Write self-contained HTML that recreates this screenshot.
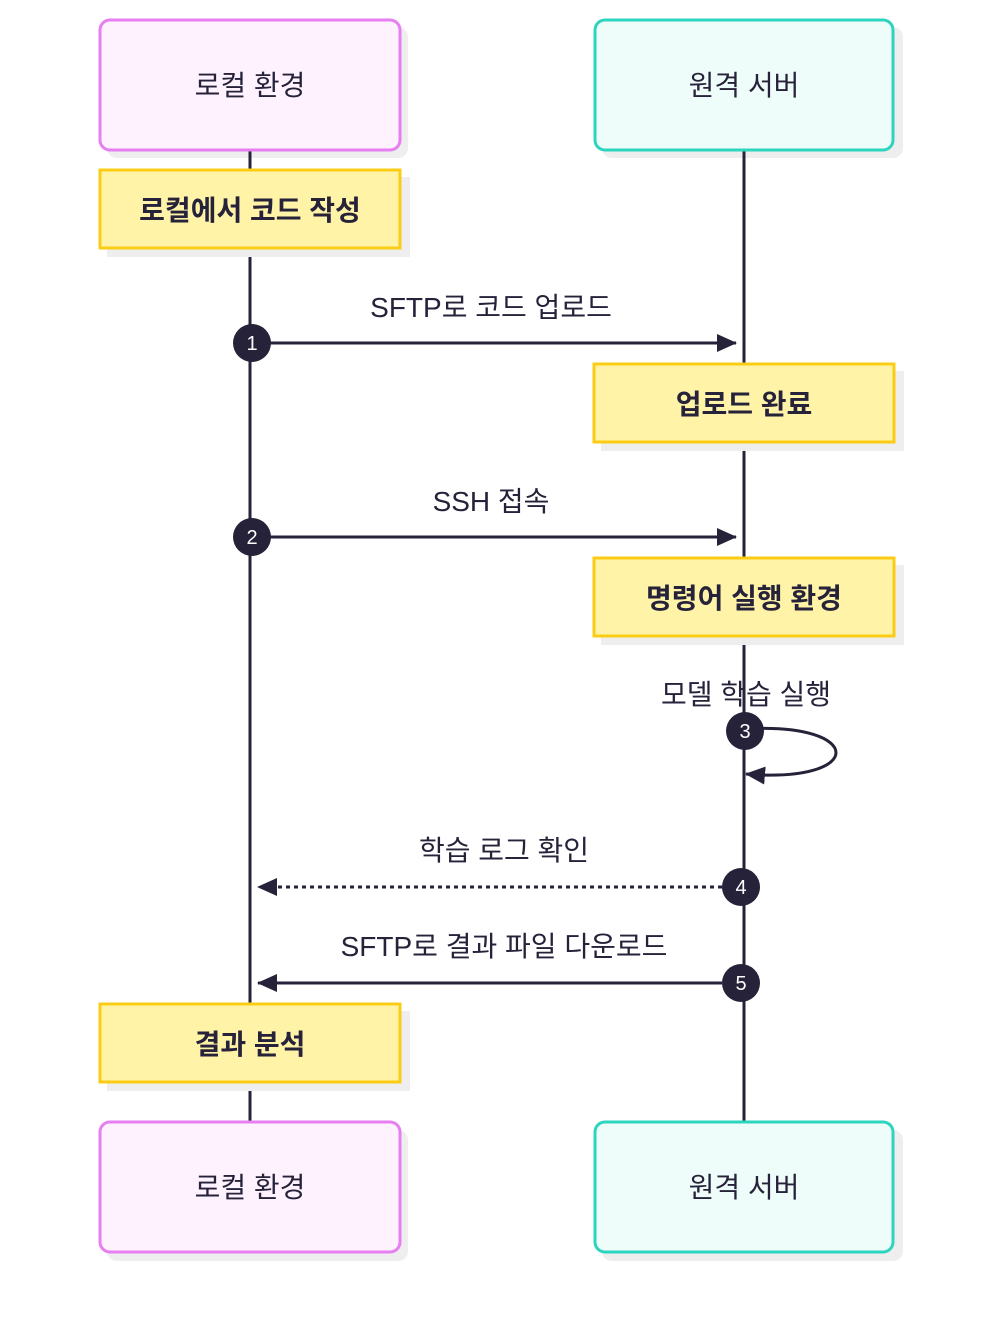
<!DOCTYPE html>
<html><head><meta charset="utf-8"><style>
html,body{margin:0;padding:0;background:#fff;}
svg text{font-family:"Liberation Sans","Noto Sans CJK KR",sans-serif;fill:#26223a;}
</style></head><body>
<svg width="996" height="1334" viewBox="0 0 996 1334" xmlns="http://www.w3.org/2000/svg">
<defs>
<marker id="ah" markerWidth="20" markerHeight="18" refX="19" refY="9" orient="auto" markerUnits="userSpaceOnUse" viewBox="0 0 20 18">
<path d="M0,0 L20,9 L0,18 z" fill="#26223a"/></marker>
</defs>
<!-- actors shadows -->
<rect x="107" y="27" width="301" height="131" rx="10" fill="#eeeeee"/>
<rect x="602" y="27" width="301" height="131" rx="10" fill="#eeeeee"/>
<rect x="107" y="1130" width="301" height="131" rx="10" fill="#eeeeee"/>
<rect x="602" y="1130" width="301" height="131" rx="10" fill="#eeeeee"/>
<!-- lifelines -->
<line x1="250" y1="150" x2="250" y2="1122" stroke="#26223a" stroke-width="3"/>
<line x1="744" y1="150" x2="744" y2="1122" stroke="#26223a" stroke-width="3"/>
<rect x="100" y="20" width="300" height="130" rx="10" fill="#fdf2fd" stroke="#e77ef2" stroke-width="3"/>
<rect x="595" y="20" width="298" height="130" rx="10" fill="#effdfa" stroke="#2dd4bf" stroke-width="3"/>
<rect x="100" y="1122" width="300" height="130" rx="10" fill="#fdf2fd" stroke="#e77ef2" stroke-width="3"/>
<rect x="595" y="1122" width="298" height="130" rx="10" fill="#effdfa" stroke="#2dd4bf" stroke-width="3"/>
<text x="250" y="95" font-size="28" text-anchor="middle">로컬 환경</text>
<text x="744" y="95" font-size="28" text-anchor="middle">원격 서버</text>
<text x="250" y="1197" font-size="28" text-anchor="middle">로컬 환경</text>
<text x="744" y="1197" font-size="28" text-anchor="middle">원격 서버</text>
<!-- notes -->
<g>
<rect x="107" y="177" width="303" height="80" fill="#eeeeee"/>
<rect x="100" y="170" width="300" height="78" fill="#fef3a7" stroke="#facc15" stroke-width="3"/>
<text x="250" y="220" font-size="28" font-weight="bold" text-anchor="middle">로컬에서 코드 작성</text>
<rect x="601" y="371" width="303" height="80" fill="#eeeeee"/>
<rect x="594" y="364" width="300" height="78" fill="#fef3a7" stroke="#facc15" stroke-width="3"/>
<text x="744" y="414" font-size="28" font-weight="bold" text-anchor="middle">업로드 완료</text>
<rect x="601" y="565" width="303" height="80" fill="#eeeeee"/>
<rect x="594" y="558" width="300" height="78" fill="#fef3a7" stroke="#facc15" stroke-width="3"/>
<text x="744" y="608" font-size="28" font-weight="bold" text-anchor="middle">명령어 실행 환경</text>
<rect x="107" y="1011" width="303" height="80" fill="#eeeeee"/>
<rect x="100" y="1004" width="300" height="78" fill="#fef3a7" stroke="#facc15" stroke-width="3"/>
<text x="250" y="1054" font-size="28" font-weight="bold" text-anchor="middle">결과 분석</text>
</g>
<!-- messages -->
<text x="491" y="317" font-size="28" text-anchor="middle">SFTP로 코드 업로드</text>
<line x1="252" y1="343" x2="736" y2="343" stroke="#26223a" stroke-width="3" marker-end="url(#ah)"/>
<text x="491" y="511" font-size="28" text-anchor="middle">SSH 접속</text>
<line x1="252" y1="537" x2="736" y2="537" stroke="#26223a" stroke-width="3" marker-end="url(#ah)"/>
<text x="746" y="704" font-size="28" text-anchor="middle">모델 학습 실행</text>
<path d="M746,729 C866,722 866,784 746,774" fill="none" stroke="#26223a" stroke-width="3" marker-end="url(#ah)"/>
<text x="504" y="860" font-size="28" text-anchor="middle">학습 로그 확인</text>
<line x1="722" y1="887" x2="258" y2="887" stroke="#26223a" stroke-width="3" stroke-dasharray="4,4" marker-end="url(#ah)"/>
<text x="504" y="956" font-size="28" text-anchor="middle">SFTP로 결과 파일 다운로드</text>
<line x1="722" y1="983" x2="258" y2="983" stroke="#26223a" stroke-width="3" marker-end="url(#ah)"/>
<!-- numbers -->
<g font-size="20" text-anchor="middle">
<circle cx="252" cy="343" r="19" fill="#26223a"/><text x="252" y="350" style="fill:#fff">1</text>
<circle cx="252" cy="537" r="19" fill="#26223a"/><text x="252" y="544" style="fill:#fff">2</text>
<circle cx="745" cy="731" r="19" fill="#26223a"/><text x="745" y="738" style="fill:#fff">3</text>
<circle cx="741" cy="887" r="19" fill="#26223a"/><text x="741" y="894" style="fill:#fff">4</text>
<circle cx="741" cy="983" r="19" fill="#26223a"/><text x="741" y="990" style="fill:#fff">5</text>
</g>
</svg>
</body></html>
